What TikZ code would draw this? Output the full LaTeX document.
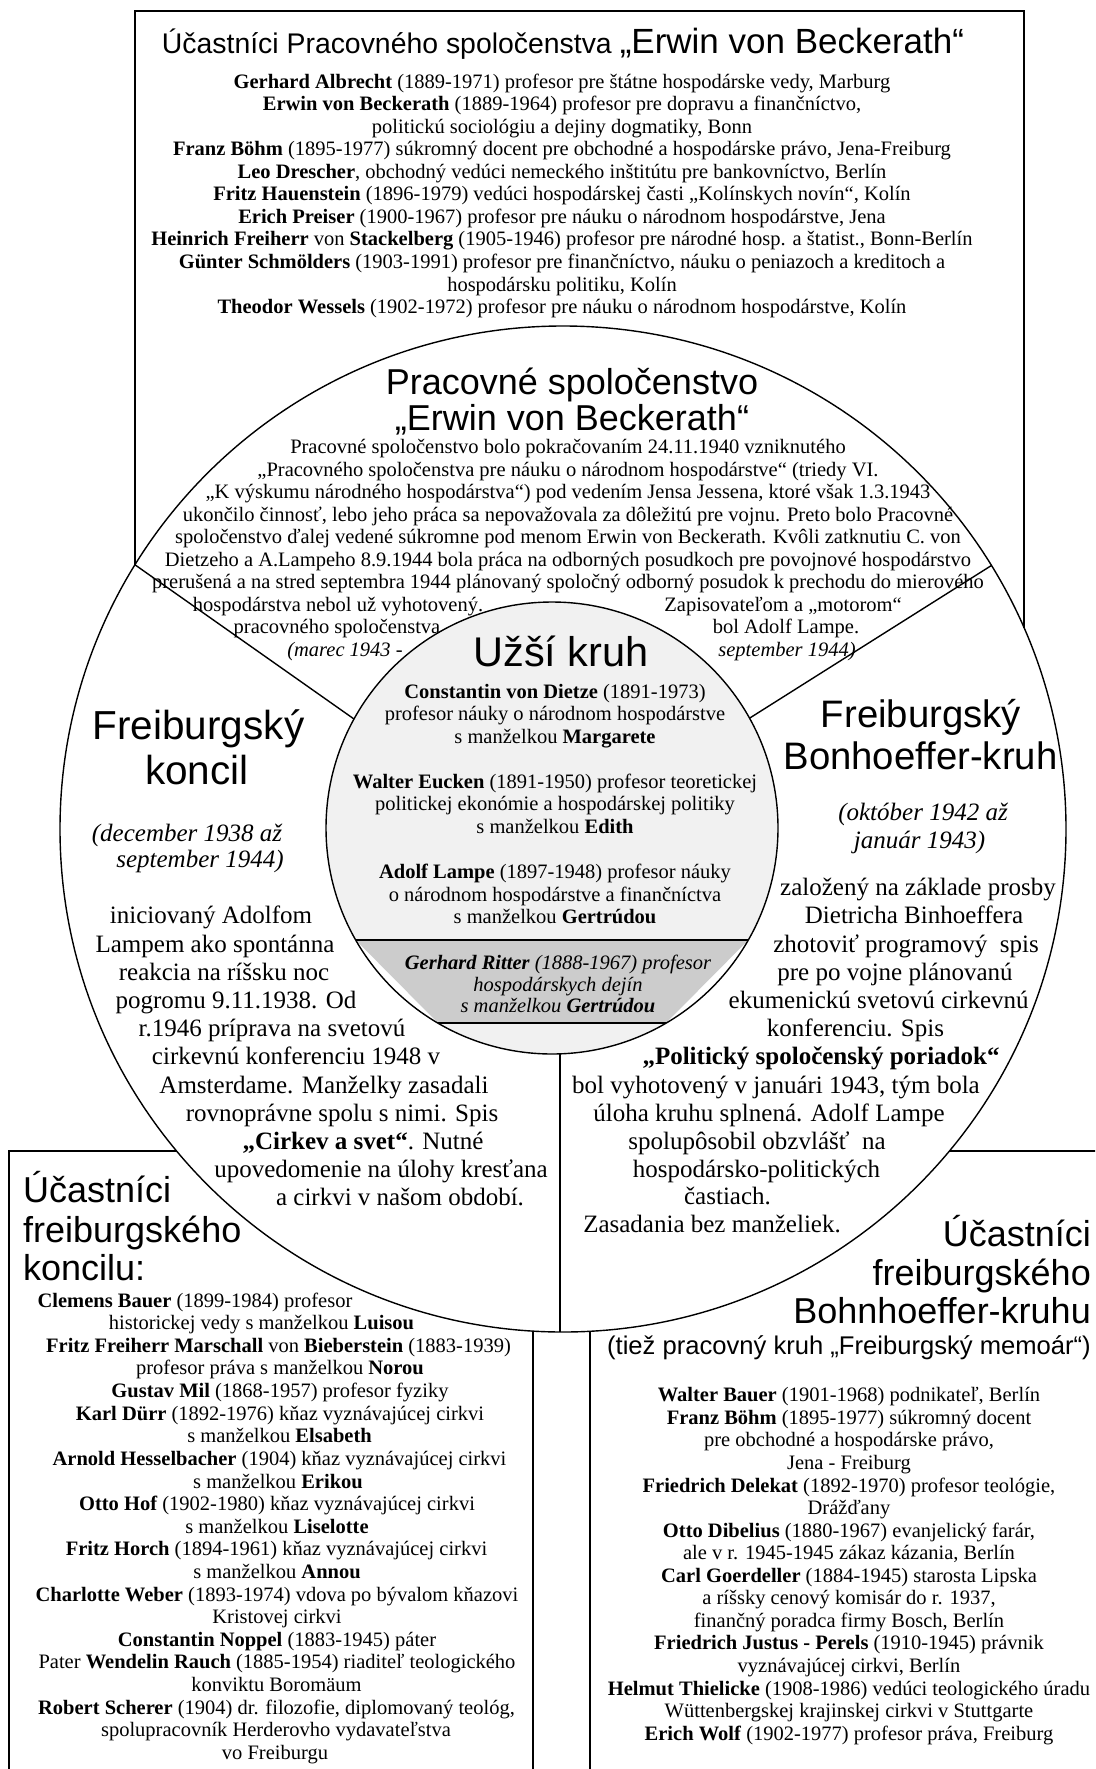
\documentclass[tikz,border=0pt]{standalone}
\usepackage{fontspec}
\setmainfont{Liberation Serif}
\setsansfont{Liberation Sans}
\definecolor{lightfill}{gray}{0.945}
\definecolor{darkfill}{gray}{0.80}
\tikzset{
  rule/.style={line width=1.4pt, black},
  tline/.style={inner sep=0pt, text height=11.5pt, text depth=0pt, font=\fontsize{20.5}{22.5}\selectfont},
  itline/.style={inner sep=0pt, text height=11.5pt, text depth=0pt, font=\fontsize{20.5}{22.5}\selectfont\itshape},
  bline/.style={inner sep=0pt, text height=14pt, text depth=0pt, font=\fontsize{25}{28}\selectfont},
  ibline/.style={inner sep=0pt, text height=14pt, text depth=0pt, font=\fontsize{25}{28}\selectfont\itshape},
  stitle/.style={inner sep=0pt, text height=26pt, text depth=0pt, font=\fontsize{36}{40}\selectfont\sffamily},
  ktitle/.style={inner sep=0pt, text height=29pt, text depth=0pt, font=\fontsize{40.5}{44}\selectfont\sffamily},
  btitle/.style={inner sep=0pt, text height=27.5pt, text depth=0pt, font=\fontsize{38.3}{42}\selectfont\sffamily},
}
\begin{document}
\begin{tikzpicture}[x=1pt,y=-1pt]
\useasboundingbox (0,0) rectangle (1095,1769);
\fill[white] (0,0) rectangle (1095,1769);
\clip (0,0) rectangle (1095,1769);

% ---------- geometry ----------
\coordinate (C) at (563,829);
\coordinate (Ci) at (552,828);
\coordinate (boxL) at (135,564.8);
\coordinate (boxR) at (1024,627.8);
\coordinate (divLin) at (354,719);
\coordinate (divRout) at (991.4,565.5);
\coordinate (divRin) at (749.5,718.2);

\draw[rule] (boxL) -- (135,11) -- (1024,11) -- (boxR);
\draw[rule] (C) circle[radius=503pt];
\draw[rule] (boxL) -- (divLin);
\draw[rule] (divRout) -- (divRin);

\fill[lightfill] (Ci) circle[radius=226pt];
\begin{scope}
  \clip (Ci) circle[radius=226pt];
  \fill[white] (300,940) rectangle (820,1023);
\end{scope}
\fill[darkfill] (355.7,940) -- (748.3,940) -- (666,1023) -- (438,1023) -- cycle;
\draw[rule] (355.7,940) -- (748.3,940);
\draw[rule] (438,1023) -- (666,1023);
\draw[rule] (Ci) circle[radius=226pt];
\draw[rule] (560,1053.9) -- (560,1332);

\draw[rule] (176.6,1151) -- (9,1151) -- (9,1780);
\draw[rule] (533,1331.1) -- (533,1780);
\draw[rule] (590,1331.3) -- (590,1780);
\draw[rule] (949.4,1151) -- (1100,1151);

% ---------- top box ----------
\node[inner sep=0pt, text height=25pt, text depth=0pt, font=\sffamily] (toptitle) at (563,41)
  {\fontsize{28.4}{30}\selectfont Účastníci Pracovného spoločenstva {\fontsize{35}{38}\selectfont „Erwin von Beckerath“}};
\foreach \t [count=\i from 0] in {
 {\textbf{Gerhard Albrecht} (1889-1971) profesor pre štátne hospodárske vedy, Marburg},
 {\textbf{Erwin von Beckerath} (1889-1964) profesor pre dopravu a finančníctvo,},
 {politickú sociológiu a dejiny dogmatiky, Bonn},
 {\textbf{Franz Böhm} (1895-1977) súkromný docent pre obchodné a hospodárske právo, Jena-Freiburg},
 {\textbf{Leo Drescher}, obchodný vedúci nemeckého inštitútu pre bankovníctvo, Berlín},
 {\textbf{Fritz Hauenstein} (1896-1979) vedúci hospodárskej časti „Kolínskych novín“, Kolín},
 {\textbf{Erich Preiser} (1900-1967) profesor pre náuku o národnom hospodárstve, Jena},
 {\textbf{Heinrich Freiherr} von \textbf{Stackelberg} (1905-1946) profesor pre národné hosp. a štatist., Bonn-Berlín},
 {\textbf{Günter Schmölders} (1903-1991) profesor pre finančníctvo, náuku o peniazoch a kreditoch a},
 {hospodársku politiku, Kolín},
 {\textbf{Theodor Wessels} (1902-1972) profesor pre náuku o národnom hospodárstve, Kolín}}
 {\node[tline] (top\i) at (562,{82.3+22.56*\i}) {\t};}

% ---------- upper sector ----------
\node[stitle] (pst1) at (572,381) {Pracovné spoločenstvo};
\node[stitle] (pst2) at (572,417) {„Erwin von Beckerath“};
\foreach \t [count=\i from 0] in {
 {Pracovné spoločenstvo bolo pokračovaním 24.11.1940 vzniknutého},
 {„Pracovného spoločenstva pre náuku o národnom hospodárstve“ (triedy VI.},
 {„K výskumu národného hospodárstva“) pod vedením Jensa Jessena, ktoré však 1.3.1943},
 {ukončilo činnosť, lebo jeho práca sa nepovažovala za dôležitú pre vojnu. Preto bolo Pracovné},
 {spoločenstvo ďalej vedené súkromne pod menom Erwin von Beckerath. Kvôli zatknutiu C. von},
 {Dietzeho a A.Lampeho 8.9.1944 bola práca na odborných posudkoch pre povojnové hospodárstvo},
 {prerušená a na stred septembra 1944 plánovaný spoločný odborný posudok k prechodu do mierového}}
 {\node[tline] (ps\i) at (568,{447.7+22.55*\i}) {\t};}
\node[tline] (psl1) at (338,605.6) {hospodárstva nebol už vyhotovený.};
\node[tline] (psl2) at (337,628.1) {pracovného spoločenstva};
\node[itline] (psl3) at (345,650.7) {(marec 1943 -};
\node[tline] (psr1) at (783,605.6) {Zapisovateľom a „motorom“};
\node[tline] (psr2) at (786,628.1) {bol Adolf Lampe.};
\node[itline] (psr3) at (787,650.7) {september 1944)};

% ---------- inner circle ----------
\node[inner sep=0pt, text height=30pt, text depth=0pt, font=\fontsize{41.5}{44}\selectfont\sffamily] (uk) at (561,651) {Užší kruh};
\node[tline] (in1) at (555,692.4) {\textbf{Constantin von Dietze} (1891-1973)};
\node[tline] (in2) at (555,715.0) {profesor náuky o národnom hospodárstve};
\node[tline] (in3) at (555,737.5) {s manželkou \textbf{Margarete}};
\node[tline] (in4) at (555,782.6) {\textbf{Walter Eucken} (1891-1950) profesor teoretickej};
\node[tline] (in5) at (555,805.2) {politickej ekonómie a hospodárskej politiky};
\node[tline] (in6) at (555,827.7) {s manželkou \textbf{Edith}};
\node[tline] (in7) at (555,872.8) {\textbf{Adolf Lampe} (1897-1948) profesor náuky};
\node[tline] (in8) at (555,895.4) {o národnom hospodárstve a finančníctva};
\node[tline] (in9) at (555,917.9) {s manželkou \textbf{Gertrúdou}};
\node[itline] (gr1) at (558,964.2) {\textbf{Gerhard Ritter} (1888-1967) profesor};
\node[itline] (gr2) at (558,985.6) {hospodárskych dejín};
\node[itline] (gr3) at (558,1007.0) {s manželkou \textbf{Gertrúdou}};

% ---------- left sector ----------
\node[ktitle] (fk1) at (198.5,725) {Freiburgský};
\node[ktitle] (fk2) at (197,770) {koncil};
\node[ibline] (fk3) at (187,834.5) {(december 1938 až};
\node[ibline] (fk4) at (200,860.4) {september 1944)};
\node[bline] (kl1) at (211,916.8) {iniciovaný Adolfom};
\node[bline] (kl2) at (215,945.0) {Lampem ako spontánna};
\node[bline] (kl3) at (224,973.2) {reakcia na ríšsku noc};
\node[bline] (kl4) at (236,1001.4) {pogromu 9.11.1938. Od};
\node[bline] (kl5) at (272,1029.6) {r.1946 príprava na svetovú};
\node[bline] (kl6) at (296,1057.8) {cirkevnú konferenciu 1948 v};
\node[bline] (kl7) at (324,1086.0) {Amsterdame. Manželky zasadali};
\node[bline] (kl8) at (342,1114.2) {rovnoprávne spolu s nimi. Spis};
\node[bline] (kl9) at (363,1142.4) {\textbf{„Cirkev a svet“}. Nutné};
\node[bline] (kl10) at (381,1170.6) {upovedomenie na úlohy kresťana};
\node[bline] (kl11) at (400,1198.8) {a cirkvi v našom období.};

% ---------- right sector ----------
\node[btitle] (fb1) at (921,714) {Freiburgský};
\node[btitle] (fb2) at (920.5,755.6) {Bonhoeffer-kruh};
\node[ibline] (fb3) at (923,813) {(október 1942 až};
\node[ibline] (fb4) at (919.6,841) {január 1943)};
\node[bline] (br1) at (918,888.6) {založený na základe prosby};
\node[bline] (br2) at (914,916.8) {Dietricha Binhoeffera};
\node[bline] (br3) at (906,945.0) {zhotoviť programový~ spis};
\node[bline] (br4) at (895,973.2) {pre po vojne plánovanú};
\node[bline] (br5) at (878.6,1001.4) {ekumenickú svetovú cirkevnú};
\node[bline] (br6) at (855.5,1029.6) {konferenciu. Spis};
\node[bline] (br7) at (821,1057.8) {\textbf{„Politický spoločenský poriadok“}};
\node[bline] (br8) at (776,1086.0) {bol vyhotovený v januári 1943, tým bola};
\node[bline] (br9) at (769,1114.2) {úloha kruhu splnená. Adolf Lampe};
\node[bline] (br10) at (757,1142.4) {spolupôsobil obzvlášť~ na};
\node[bline] (br11) at (756.5,1170.6) {hospodársko-politických};
\node[bline] (br12) at (727.5,1197.6) {častiach.};
\node[bline] (br13) at (712,1225.8) {Zasadania bez manželiek.};

% ---------- lower left box ----------
\node[stitle, anchor=west] (ul1) at (23,1189.7) {Účastníci};
\node[stitle, anchor=west] (ul2) at (23,1229.2) {freiburgského};
\node[stitle, anchor=west] (ul3) at (23,1267.5) {koncilu:};
\node[tline] (ll1) at (195,1301.4) {\textbf{Clemens Bauer} (1899-1984) profesor};
\node[tline] (ll2) at (261.5,1324.0) {historickej vedy s manželkou \textbf{Luisou}};
\node[tline] (ll3) at (278.5,1346.6) {\textbf{Fritz Freiherr Marschall} von \textbf{Bieberstein} (1883-1939)};
\node[tline] (ll4) at (280,1369.2) {profesor práva s manželkou \textbf{Norou}};
\node[tline] (ll5) at (280,1391.8) {\textbf{Gustav Mil} (1868-1957) profesor fyziky};
\node[tline] (ll6) at (280,1414.5) {\textbf{Karl Dürr} (1892-1976) kňaz vyznávajúcej cirkvi};
\node[tline] (ll7) at (279.5,1437.1) {s manželkou \textbf{Elsabeth}};
\node[tline] (ll8) at (279.5,1459.7) {\textbf{Arnold Hesselbacher} (1904) kňaz vyznávajúcej cirkvi};
\node[tline] (ll9) at (278,1482.3) {s manželkou \textbf{Erikou}};
\node[tline] (ll10) at (277,1504.9) {\textbf{Otto Hof} (1902-1980) kňaz vyznávajúcej cirkvi};
\node[tline] (ll11) at (277,1527.5) {s manželkou \textbf{Liselotte}};
\node[tline] (ll12) at (276.5,1550.1) {\textbf{Fritz Horch} (1894-1961) kňaz vyznávajúcej cirkvi};
\node[tline] (ll13) at (277,1572.7) {s manželkou \textbf{Annou}};
\node[tline] (ll14) at (277,1595.3) {\textbf{Charlotte Weber} (1893-1974) vdova po bývalom kňazovi};
\node[tline] (ll15) at (277,1617.9) {Kristovej cirkvi};
\node[tline] (ll16) at (277,1640.6) {\textbf{Constantin Noppel} (1883-1945) páter};
\node[tline] (ll17) at (277,1663.2) {Pater \textbf{Wendelin Rauch} (1885-1954) riaditeľ teologického};
\node[tline] (ll18) at (276.5,1685.8) {konviktu Boromäum};
\node[tline] (ll19) at (276.5,1708.4) {\textbf{Robert Scherer} (1904) dr. filozofie, diplomovaný teológ,};
\node[tline] (ll20) at (276,1731.0) {spolupracovník Herderovho vydavateľstva};
\node[tline] (ll21) at (275,1753.6) {vo Freiburgu};

% ---------- lower right box ----------
\node[stitle, anchor=east] (ur1) at (1091,1233.7) {Účastníci};
\node[stitle, anchor=east] (ur2) at (1091,1272) {freiburgského};
\node[stitle, anchor=east] (ur3) at (1091,1310.4) {Bohnhoeffer-kruhu};
\node[inner sep=0pt, text height=18.4pt, text depth=0pt, font=\fontsize{25.6}{28}\selectfont\sffamily, anchor=east] (ur4) at (1091,1345.4) {(tiež pracovný kruh „Freiburgský memoár“)};
\foreach \t [count=\i from 0] in {
 {\textbf{Walter Bauer} (1901-1968) podnikateľ, Berlín},
 {\textbf{Franz Böhm} (1895-1977) súkromný docent},
 {pre obchodné a hospodárske právo,},
 {Jena - Freiburg},
 {\textbf{Friedrich Delekat} (1892-1970) profesor teológie,},
 {Drážďany},
 {\textbf{Otto Dibelius} (1880-1967) evanjelický farár,},
 {ale v r. 1945-1945 zákaz kázania, Berlín},
 {\textbf{Carl Goerdeller} (1884-1945) starosta Lipska},
 {a ríšsky cenový komisár do r. 1937,},
 {finančný poradca firmy Bosch, Berlín},
 {\textbf{Friedrich Justus - Perels} (1910-1945) právnik},
 {vyznávajúcej cirkvi, Berlín},
 {\textbf{Helmut Thielicke} (1908-1986) vedúci teologického úradu},
 {Wüttenbergskej krajinskej cirkvi v Stuttgarte},
 {\textbf{Erich Wolf} (1902-1977) profesor práva, Freiburg}}
 {\node[tline] (lr\i) at (849,{1396.1+22.55*\i}) {\t};}
\end{tikzpicture}
\end{document}
